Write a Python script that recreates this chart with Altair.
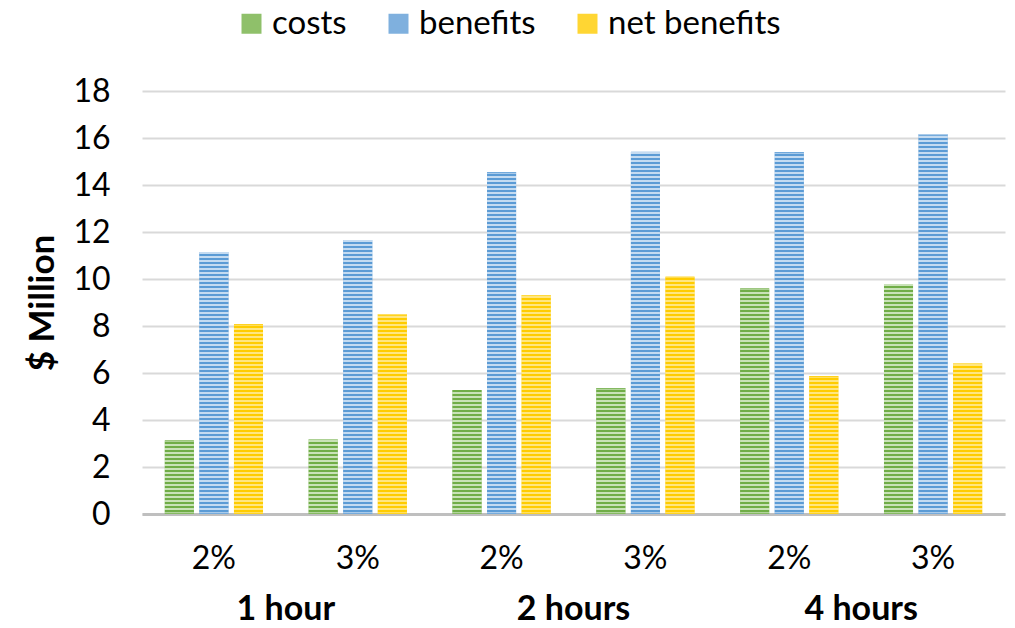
import altair as alt
import pandas as pd

durations = ["1 hour", "1 hour", "2 hours", "2 hours", "4 hours", "4 hours"]
rates = ["2%", "3%", "2%", "3%", "2%", "3%"]
costs = [3.13, 3.18, 5.28, 5.36, 9.60, 9.79]
benefits = [11.15, 11.66, 14.55, 15.42, 15.40, 16.17]
net_benefits = [8.07, 8.51, 9.32, 10.10, 5.87, 6.41]

series_names = ["costs", "benefits", "net benefits"]
dark_colors = ["#70AD47", "#5B9BD5", "#FFCC00"]
light_colors = ["#C9E2B8", "#C4DBF1", "#FFE680"]
mid_colors = ["#8FC06A", "#7FB0DE", "#FFD633"]

group_names = ["1 hour", "2 hours", "4 hours"]

W, H = 863, 423
YMAX = 18
FONT = "Lato"
FS = 32

cats = [f"{d}|{r}" for d, r in zip(durations, rates)]
rows = []
for i, c in enumerate(cats):
    for s, vals in zip(series_names, [costs, benefits, net_benefits]):
        rows.append({"cat": c, "series": s, "value": vals[i], "id": f"{c}|{s}"})
df = pd.DataFrame(rows)

x_enc = alt.X("cat:N", scale=alt.Scale(domain=cats, paddingInner=0, paddingOuter=0),
              axis=alt.Axis(title=None, labelExpr="split(datum.label, '|')[1]",
                            labelAngle=0, labelPadding=29, labelFontSize=FS,
                            labelFont=FONT, labelColor="#000000", ticks=False,
                            domainColor="#BFBFBF", domainWidth=3))
xo_enc = alt.XOffset("series:N", scale=alt.Scale(domain=series_names, paddingInner=0.16, paddingOuter=0.66))
y_enc = alt.Y("value:Q", scale=alt.Scale(domain=[0, YMAX], nice=False),
              axis=alt.Axis(title="$ Million", values=list(range(0, 19, 2)), domain=False,
                            ticks=False, labelPadding=32, labelFontSize=FS, labelFont=FONT,
                            labelColor="#000000", titleFont=FONT, titleFontSize=35,
                            titleFontWeight="bold", titleColor="#000000", titlePadding=12,
                            gridColor="#D9D9D9", gridWidth=2))

base = alt.Chart(df).mark_bar().encode(
    x=x_enc, xOffset=xo_enc, y=y_enc,
    color=alt.Color("series:N", scale=alt.Scale(domain=series_names, range=mid_colors),
                    legend=alt.Legend(title=None, orient="none", direction="horizontal",
                                      legendX=93, legendY=-84, symbolType="square",
                                      symbolSize=400, symbolStrokeWidth=0, symbolOpacity=1,
                                      labelFontSize=33, labelFont=FONT, labelColor="#000000",
                                      labelLimit=0, columnPadding=35, labelOffset=4)),
)


def stripe_gradient(value, dark, light):
    h = value / YMAX * H
    stops = []
    p = 0.0
    k = 0
    while p < h:
        col = dark if k % 2 == 0 else light
        q = min(p + 2.0, h)
        stops.append({"offset": round(1 - p / h, 5), "color": col})
        stops.append({"offset": round(1 - q / h, 5), "color": col})
        p = q
        k += 1
    stops = sorted(stops, key=lambda s: s["offset"])
    return alt.LinearGradient(gradient="linear", x1=0, y1=0, x2=0, y2=1, stops=stops)


layers = [base]
for r in rows:
    si = series_names.index(r["series"])
    g = stripe_gradient(r["value"], dark_colors[si], light_colors[si])
    layers.append(
        alt.Chart(df).mark_bar(fill=g).encode(x=x_enc, xOffset=xo_enc, y=y_enc)
        .transform_filter(alt.datum.id == r["id"])
    )

gdf = pd.DataFrame({"group": group_names, "cat": [f"{g}|2%" for g in group_names]})
glabels = alt.Chart(gdf).mark_text(font=FONT, fontSize=34, fontWeight="bold",
                                   baseline="middle", align="center", color="#000000").encode(
    x=alt.X("cat:N", scale=alt.Scale(domain=cats, paddingInner=0, paddingOuter=0), bandPosition=1),
    y=alt.value(H + 96),
    text="group:N",
)
layers.append(glabels)

chart = alt.layer(*layers).properties(
    width=W, height=H,
    autosize=alt.AutoSizeParams(type="none"),
    padding={"left": 142, "top": 91, "right": 1015 - 142 - W, "bottom": 628 - 91 - H},
    background="#FFFFFF",
).configure_view(stroke=None)

chart.save("out.html", embed_options={"renderer": "svg", "actions": False})
